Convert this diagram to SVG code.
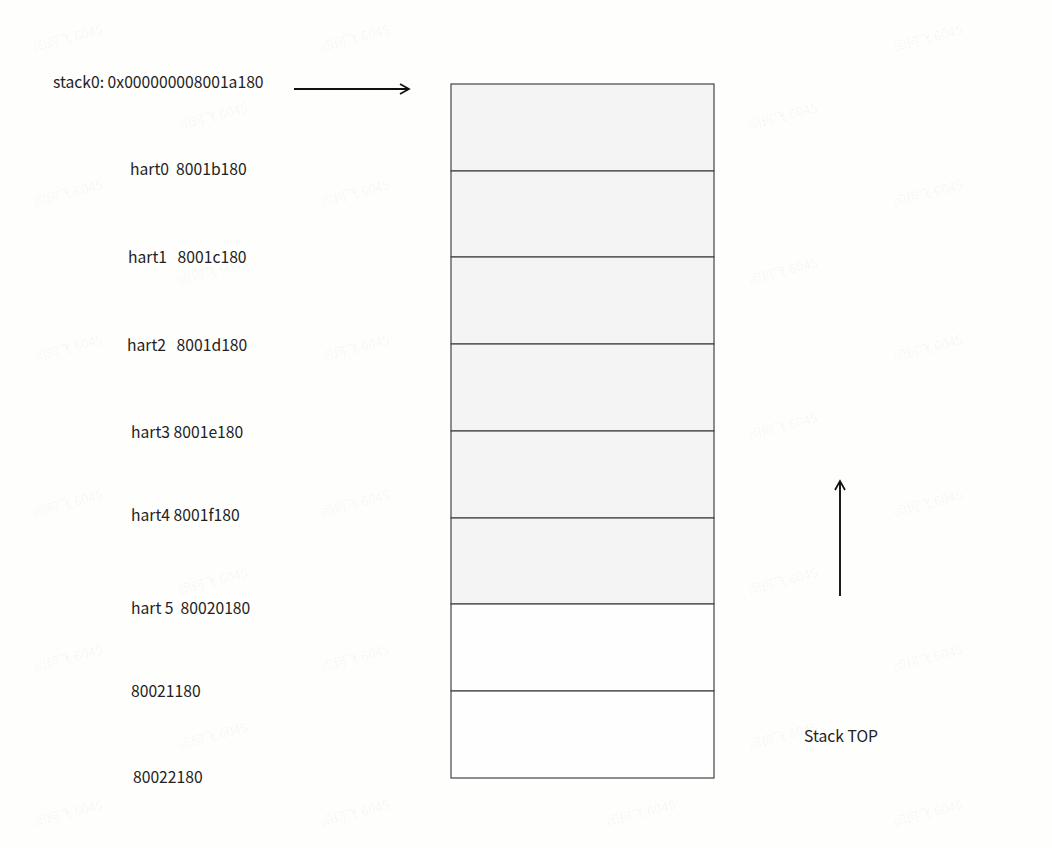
<svg xmlns="http://www.w3.org/2000/svg" width="1052" height="848" viewBox="0 0 1052 848">
<style>
.bg{fill:#fefefd}
.cell{stroke:#444;stroke-width:1.2}
.used{fill:#f4f4f4}
.free{fill:#fefefe}
.lbl{font-family:"Noto Sans CJK SC","Noto Sans",sans-serif;font-size:15.7px;fill:#222;white-space:pre}
.wm{font-family:"Noto Sans CJK SC","Noto Sans",sans-serif;font-size:13px;fill:#000;fill-opacity:0.045}
.arr{stroke:#111;stroke-width:1.9;fill:none}
</style>
<defs>
<marker id="open" viewBox="0 0 12 12" refX="10" refY="6" markerWidth="12" markerHeight="12" markerUnits="userSpaceOnUse" orient="auto">
<path d="M1,1 L10,6 L1,11" fill="none" stroke="#111" stroke-width="1.7"/>
</marker>
</defs>
<rect class="bg" x="0" y="0" width="1052" height="848"/>
<g id="watermarks">
<g transform="translate(35,52) rotate(-15)"><text class="wm">闫珂飞 6045</text></g>
<g transform="translate(322,52) rotate(-15)"><text class="wm">闫珂飞 6045</text></g>
<g transform="translate(895,52) rotate(-15)"><text class="wm">闫珂飞 6045</text></g>
<g transform="translate(180,130) rotate(-15)"><text class="wm">闫珂飞 6045</text></g>
<g transform="translate(465,130) rotate(-15)"><text class="wm">闫珂飞 6045</text></g>
<g transform="translate(750,130) rotate(-15)"><text class="wm">闫珂飞 6045</text></g>
<g transform="translate(35,207) rotate(-15)"><text class="wm">闫珂飞 6045</text></g>
<g transform="translate(322,207) rotate(-15)"><text class="wm">闫珂飞 6045</text></g>
<g transform="translate(608,207) rotate(-15)"><text class="wm">闫珂飞 6045</text></g>
<g transform="translate(895,207) rotate(-15)"><text class="wm">闫珂飞 6045</text></g>
<g transform="translate(180,285) rotate(-15)"><text class="wm">闫珂飞 6045</text></g>
<g transform="translate(465,285) rotate(-15)"><text class="wm">闫珂飞 6045</text></g>
<g transform="translate(750,285) rotate(-15)"><text class="wm">闫珂飞 6045</text></g>
<g transform="translate(35,362) rotate(-15)"><text class="wm">闫珂飞 6045</text></g>
<g transform="translate(322,362) rotate(-15)"><text class="wm">闫珂飞 6045</text></g>
<g transform="translate(608,362) rotate(-15)"><text class="wm">闫珂飞 6045</text></g>
<g transform="translate(895,362) rotate(-15)"><text class="wm">闫珂飞 6045</text></g>
<g transform="translate(465,440) rotate(-15)"><text class="wm">闫珂飞 6045</text></g>
<g transform="translate(750,440) rotate(-15)"><text class="wm">闫珂飞 6045</text></g>
<g transform="translate(35,517) rotate(-15)"><text class="wm">闫珂飞 6045</text></g>
<g transform="translate(322,517) rotate(-15)"><text class="wm">闫珂飞 6045</text></g>
<g transform="translate(608,517) rotate(-15)"><text class="wm">闫珂飞 6045</text></g>
<g transform="translate(895,517) rotate(-15)"><text class="wm">闫珂飞 6045</text></g>
<g transform="translate(180,595) rotate(-15)"><text class="wm">闫珂飞 6045</text></g>
<g transform="translate(465,595) rotate(-15)"><text class="wm">闫珂飞 6045</text></g>
<g transform="translate(750,595) rotate(-15)"><text class="wm">闫珂飞 6045</text></g>
<g transform="translate(35,672) rotate(-15)"><text class="wm">闫珂飞 6045</text></g>
<g transform="translate(322,672) rotate(-15)"><text class="wm">闫珂飞 6045</text></g>
<g transform="translate(608,672) rotate(-15)"><text class="wm">闫珂飞 6045</text></g>
<g transform="translate(895,672) rotate(-15)"><text class="wm">闫珂飞 6045</text></g>
<g transform="translate(180,750) rotate(-15)"><text class="wm">闫珂飞 6045</text></g>
<g transform="translate(465,750) rotate(-15)"><text class="wm">闫珂飞 6045</text></g>
<g transform="translate(750,750) rotate(-15)"><text class="wm">闫珂飞 6045</text></g>
<g transform="translate(35,827) rotate(-15)"><text class="wm">闫珂飞 6045</text></g>
<g transform="translate(322,827) rotate(-15)"><text class="wm">闫珂飞 6045</text></g>
<g transform="translate(608,827) rotate(-15)"><text class="wm">闫珂飞 6045</text></g>
<g transform="translate(895,827) rotate(-15)"><text class="wm">闫珂飞 6045</text></g>
</g>
<g id="stack">
<rect id="cell0" class="cell used" x="451" y="84" width="263" height="87"/>
<rect id="cell1" class="cell used" x="451" y="171" width="263" height="86"/>
<rect id="cell2" class="cell used" x="451" y="257" width="263" height="87"/>
<rect id="cell3" class="cell used" x="451" y="344" width="263" height="87"/>
<rect id="cell4" class="cell used" x="451" y="431" width="263" height="87"/>
<rect id="cell5" class="cell used" x="451" y="518" width="263" height="86"/>
<rect id="cell6" class="cell free" x="451" y="604" width="263" height="87"/>
<rect id="cell7" class="cell free" x="451" y="691" width="263" height="87"/>
</g>
<g id="labels">
<text class="lbl" x="53" y="88">stack0: 0x000000008001a180</text>
<text class="lbl" x="130" y="175">hart0  8001b180</text>
<text class="lbl" x="128" y="263">hart1   8001c180</text>
<text class="lbl" x="127" y="351">hart2   8001d180</text>
<text class="lbl" x="131" y="438">hart3 8001e180</text>
<text class="lbl" x="131" y="521">hart4 8001f180</text>
<text class="lbl" x="131" y="614">hart 5  80020180</text>
<text class="lbl" x="131" y="697">80021180</text>
<text class="lbl" x="133" y="783">80022180</text>
<text class="lbl" x="804" y="742">Stack TOP</text>
</g>
<g id="connectors">
<line class="arr" x1="294" y1="89" x2="409" y2="89" marker-end="url(#open)"/>
<line class="arr" x1="840" y1="596" x2="840" y2="481" marker-end="url(#open)"/>
</g>
</svg>
